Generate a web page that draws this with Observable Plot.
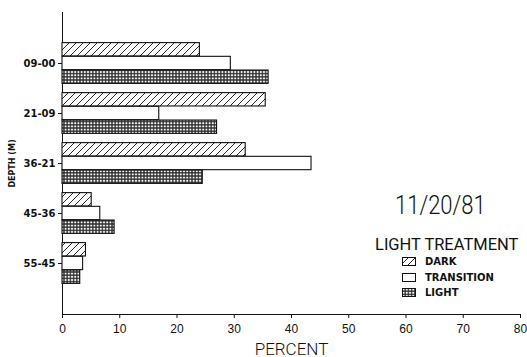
<!DOCTYPE html>
<html>
<head>
<meta charset="utf-8">
<script src="https://cdn.jsdelivr.net/npm/d3@7"></script>
<script src="https://cdn.jsdelivr.net/npm/@observablehq/plot@0.6"></script>
<style>
  html, body { margin: 0; padding: 0; background: #fff; }
  #wrap { position: relative; width: 527px; height: 357px; font-family: "Liberation Sans", Arial, sans-serif; color: #111; }
  #title { position: absolute; left: 395px; top: 193px; font-size: 25px; line-height: 1; font-family: Roboto, sans-serif; font-weight: 300; transform: scaleX(0.88); transform-origin: left top; white-space: nowrap; }
  #legtitle { position: absolute; left: 375px; top: 235px; font-size: 16px; font-family: Roboto, sans-serif; font-weight: 400; transform: scaleX(1.03); transform-origin: left top; white-space: nowrap; }
  .leg { position: absolute; left: 402px; font-size: 10px; font-weight: bold; font-family: "DejaVu Sans", sans-serif; display: flex; align-items: center; }
  .leg svg { margin-right: 9px; }
</style>
</head>
<body>
<svg width="0" height="0" style="position:absolute">
  <defs>
    <pattern id="hatch" patternUnits="userSpaceOnUse" width="7" height="7">
      <rect width="7" height="7" fill="white"/>
      <path d="M0,7 L7,0 M-2,2 L2,-2 M5,9 L9,5" stroke="#111" stroke-width="0.9"/>
    </pattern>
    <pattern id="cross" patternUnits="userSpaceOnUse" width="3.2" height="3.2">
      <rect width="3.2" height="3.2" fill="#333"/>
      <circle cx="1.6" cy="1.6" r="1.05" fill="white"/>
    </pattern>
  </defs>
</svg>
<div id="wrap">
  <div id="chart"></div>
  <div id="title">11/20/81</div>
  <div id="legtitle">LIGHT TREATMENT</div>
  <div id="legend"></div>
</div>
<script>
const depths = ["09-00", "21-09", "36-21", "45-36", "55-45"];
const dark = [24.0, 35.5, 32.0, 5.1, 4.1];
const transition = [29.4, 16.9, 43.5, 6.6, 3.6];
const light = [36.0, 27.0, 24.5, 9.1, 3.1];
const seriesNames = ["DARK", "TRANSITION", "LIGHT"];
const seriesFills = ["url(#hatch)", "white", "url(#cross)"];
const xTicks = [0, 10, 20, 30, 40, 50, 60, 70, 80];

const seriesValues = [dark, transition, light];
const rows = seriesValues.map((vals, s) => depths.map((d, i) => ({depth: d, value: vals[i], series: seriesNames[s]})));

const H = 357, marginTop = 12, marginBottom = 43;
const step = (H - marginTop - marginBottom) / (depths.length + 1);
const barH = 13.7;
const groupTop = (step - 3 * barH) / 2;

const marks = seriesNames.map((name, s) => Plot.barX(rows[s], {
  x: "value", y: "depth",
  fill: seriesFills[s], stroke: "#111", strokeWidth: 1.1,
  insetTop: groupTop + s * barH,
  insetBottom: step - groupTop - (s + 1) * barH
}));

const chart = Plot.plot({
  width: 527, height: H,
  marginLeft: 62, marginRight: 7, marginTop, marginBottom,
  style: {fontFamily: "DejaVu Sans, sans-serif", fontSize: "10px", color: "#111", background: "white"},
  x: {domain: [0, 80], ticks: xTicks, line: true, label: "PERCENT", labelAnchor: "center", labelOffset: 40, tickSize: 4, tickPadding: 6},
  y: {domain: depths, paddingInner: 0, paddingOuter: 0.5, line: true, label: "DEPTH (M)", labelAnchor: "center", labelOffset: 53, tickSize: 4, tickPadding: 3},
  marks
});
document.getElementById("chart").appendChild(chart);

// style axis texts
chart.querySelectorAll('g[aria-label="x-axis tick label"] text, g[aria-label="x-axis"] text').forEach(t => { t.style.fontSize = "12px"; t.style.fontFamily = "Liberation Sans, sans-serif"; });
chart.querySelectorAll('g[aria-label="x-axis label"] text').forEach(t => {
  t.style.fontSize = "17px"; t.style.fontFamily = "Roboto, sans-serif"; t.style.fontWeight = "300";
  t.textContent = t.textContent.replace(/\s*[→←]\s*/g, "");
});
chart.querySelectorAll('g[aria-label="y-axis label"] text').forEach(t => { t.style.fontSize = "8px"; t.style.fontWeight = "bold"; });
chart.querySelectorAll('g[aria-label="y-axis tick label"] text').forEach(t => { t.style.fontWeight = "bold"; });

// legend
const legend = document.getElementById("legend");
seriesNames.forEach((name, s) => {
  const item = document.createElement("div");
  item.className = "leg";
  item.style.top = (256 + s * 15.5) + "px";
  item.innerHTML = `<svg width="14" height="9"><rect x="0.5" y="0.5" width="13" height="8" fill="${seriesFills[s]}" stroke="#111" stroke-width="1"/></svg><span>${name}</span>`;
  legend.appendChild(item);
});
</script>
</body>
</html>
